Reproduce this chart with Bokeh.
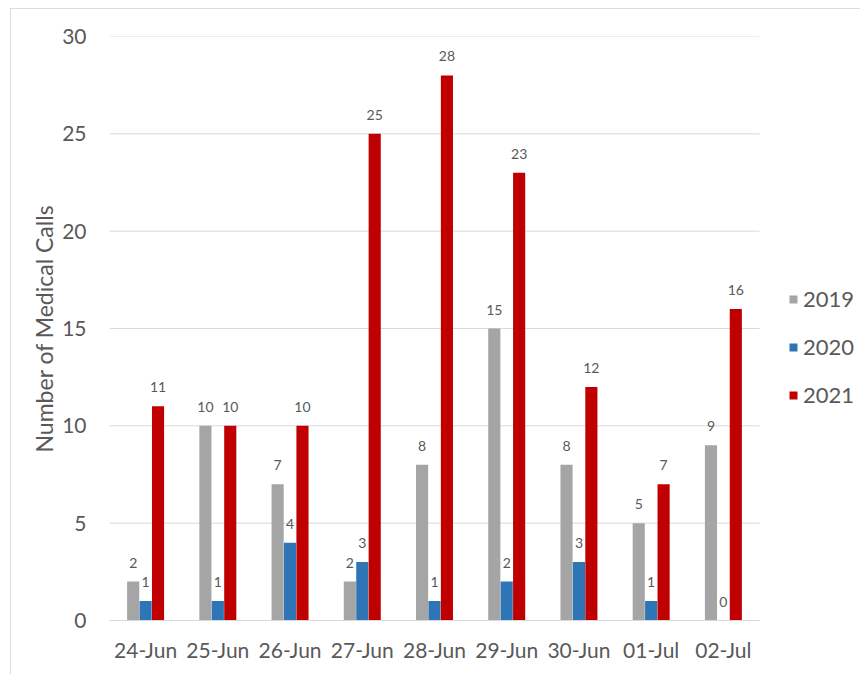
import numpy as np
from bokeh.plotting import figure
from bokeh.models import (Range1d, ColumnDataSource, Legend, LegendItem,
                          LabelSet, FixedTicker)
from bokeh.core.properties import value
from bokeh.embed import file_html
from bokeh.resources import INLINE

dates = ["24-Jun", "25-Jun", "26-Jun", "27-Jun", "28-Jun", "29-Jun", "30-Jun", "01-Jul", "02-Jul"]
calls_2019 = [2, 10, 7, 2, 8, 15, 8, 5, 9]
calls_2020 = [1, 1, 4, 3, 1, 2, 3, 1, 0]
calls_2021 = [11, 10, 10, 25, 28, 23, 12, 7, 16]
years = ["2019", "2020", "2021"]
colors = ["#A5A5A5", "#2E75B6", "#C00000"]
y_ticks = [0, 5, 10, 15, 20, 25, 30]

FONT = "Lato"
W, H = 850, 666
LEFT, TOP, BOTTOM = 98, 27, 55
PLOT_W = 650  # pixels spanned by the 9 categories
n = len(dates)
x_end = n * (W - LEFT) / PLOT_W   # extra room on the right for the legend
centers = np.arange(n) + 0.5

p = figure(x_range=Range1d(0, x_end), y_range=Range1d(0, 30),
           width=W, height=H, output_backend="svg", toolbar_location=None,
           min_border_left=LEFT, min_border_right=0, min_border_top=TOP, min_border_bottom=BOTTOM)
p.styles = {"margin-left": "10px", "margin-top": "8px",
            "border-left": "1.5px solid #DCDCDC", "border-top": "1.5px solid #DCDCDC"}

# horizontal gridlines limited to the category area
p.segment(x0=0, x1=n, y0=y_ticks, y1=y_ticks, line_color="#D9D9D9", line_width=1)

offsets = [-0.172, 0.0, 0.172]
series = [calls_2019, calls_2020, calls_2021]
renderers = []
for off, vals, c in zip(offsets, series, colors):
    src = ColumnDataSource(dict(x=centers + off, top=vals, txt=[str(v) for v in vals]))
    r = p.vbar(x="x", top="top", width=0.168, source=src, fill_color=c, line_color=None)
    renderers.append(r)
    p.add_layout(LabelSet(x="x", y="top", text="txt", source=src,
                          text_align="center", text_baseline="bottom", y_offset=14,
                          text_font=value(FONT), text_font_size=value("14px"),
                          text_color=value("#595959")))

legend = Legend(items=[LegendItem(label=y, renderers=[r]) for y, r in zip(years, renderers)],
                location=(679, 212), orientation="vertical",
                glyph_width=10, glyph_height=10, label_standoff=5,
                label_height=27, spacing=21, padding=0, margin=0,
                border_line_color=None, background_fill_alpha=0,
                label_text_font=FONT, label_text_font_size="22px", label_text_color="#595959")
p.add_layout(legend)

p.xgrid.grid_line_color = None
p.ygrid.grid_line_color = None
p.outline_line_color = None

p.yaxis.ticker = FixedTicker(ticks=y_ticks)
p.yaxis.axis_line_color = None
p.yaxis.major_tick_line_color = None
p.yaxis.minor_tick_line_color = None
p.yaxis.major_label_standoff = 17
p.yaxis.major_label_text_font = FONT
p.yaxis.major_label_text_font_size = "21px"
p.yaxis.major_label_text_color = "#595959"
p.yaxis.axis_label = "Number of Medical Calls"
p.yaxis.axis_label_text_font = FONT
p.yaxis.axis_label_text_font_style = "normal"
p.yaxis.axis_label_text_font_size = "23px"
p.yaxis.axis_label_text_color = "#595959"
p.yaxis.axis_label_standoff = 1

p.xaxis.ticker = FixedTicker(ticks=list(centers))
p.xaxis.major_label_overrides = {float(c): d for c, d in zip(centers, dates)}
p.xaxis.bounds = (0, n)
p.xaxis.axis_line_color = "#D9D9D9"
p.xaxis.major_tick_line_color = None
p.xaxis.minor_tick_line_color = None
p.xaxis.major_label_standoff = 10
p.xaxis.major_label_text_font = FONT
p.xaxis.major_label_text_font_size = "21px"
p.xaxis.major_label_text_color = "#595959"

open("out.html", "w").write(file_html(p, INLINE))
